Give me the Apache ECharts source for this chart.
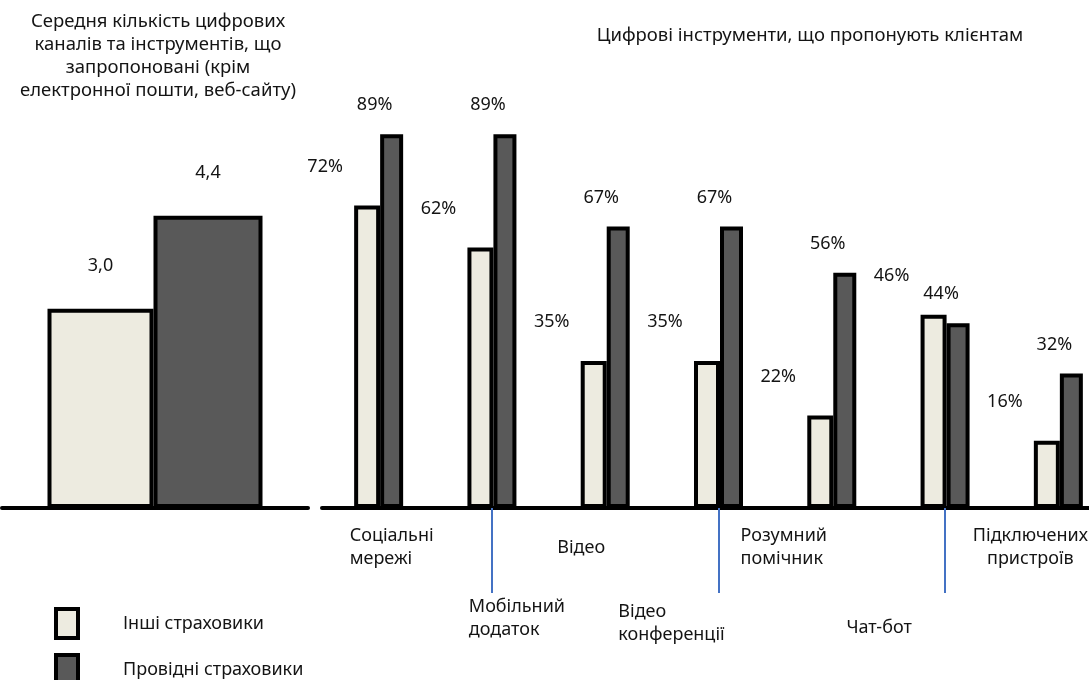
<!DOCTYPE html>
<html>
<head>
<meta charset="utf-8">
<script src="https://cdn.jsdelivr.net/npm/echarts@6/dist/echarts.min.js"></script>
<style>
  html, body { margin: 0; padding: 0; background: #fff; }
  #chart { width: 1089px; height: 680px; }
</style>
</head>
<body>
<div id="chart"></div>
<script>
// дані
var seriesNames = ['Інші страховики', 'Провідні страховики'];
var avgTitle = 'Середня кількість цифрових\nканалів та інструментів, що\nзапропоновані (крім\nелектронної пошти, веб-сайту)';
var avgOthers = [3.0];
var avgLeaders = [4.4];
var toolsTitle = 'Цифрові інструменти, що пропонують клієнтам';
var tools = ['Соціальні\nмережі', 'Мобільний\nдодаток', 'Відео', 'Відео\nконференції', 'Розумний\nпомічник', 'Чат-бот', 'Підключених\nпристроїв'];
var toolsOthers = [72, 62, 35, 35, 22, 46, 16];
var toolsLeaders = [89, 89, 67, 67, 56, 44, 32];

var FONT = '"Noto Sans", "DejaVu Sans", sans-serif';
var TEXT = '#141414';
var LIGHT = '#EDEBE0';
var DARK = '#595959';

// зсув підписів категорій (два ряди, як в оригіналі)
var labelShift = [13, 25, -24, -47, -48, -66, -28];
var labelDrop = [0, 71, 12, 76, 0, 92, 0];
var rich = {};
labelShift.forEach(function (dx, i) {
    var l = dx > 0 ? 2 * dx : 0;
    var r = dx < 0 ? -2 * dx : 0;
    rich['t' + i] = {
        fontSize: 18, fontFamily: FONT, color: TEXT, lineHeight: 23,
        align: i === 6 ? 'center' : 'left', padding: [0, r, 0, l]
    };
    rich['g' + i] = { fontSize: 1, lineHeight: labelDrop[i], height: labelDrop[i] };
});

var chart = echarts.init(document.getElementById('chart'));

chart.setOption({
    animation: false,
    graphic: [{
        type: 'text', x: 158, y: 10,
        style: { text: avgTitle, textAlign: 'center', textVerticalAlign: 'top', fontSize: 18.5, fontFamily: FONT, fill: TEXT, lineHeight: 23 }
    }, {
        type: 'text', x: 810, y: 26,
        style: { text: toolsTitle, textAlign: 'center', textVerticalAlign: 'top', fontSize: 18.5, fontFamily: FONT, fill: TEXT }
    }],
    legend: {
        orient: 'vertical', left: 49, top: 602, height: 120,
        itemWidth: 22, itemHeight: 29, itemGap: 13,
        icon: 'rect', selectedMode: false,
        data: seriesNames,
        itemStyle: { borderColor: '#000', borderWidth: 4 },
        textStyle: { fontSize: 18, fontFamily: FONT, color: TEXT, padding: [0, 0, 0, 40] }
    },
    grid: [
        { left: 2, width: 306, top: 176, bottom: 172, outerBoundsMode: 'none' },
        { left: 322, right: -26, top: 88, bottom: 172, outerBoundsMode: 'none' }
    ],
    xAxis: [{
        type: 'category', gridIndex: 0, data: [''],
        axisLine: { lineStyle: { color: '#000', width: 4 } },
        axisTick: { show: false }, axisLabel: { show: false }
    }, {
        type: 'category', gridIndex: 1, data: tools,
        axisLine: { lineStyle: { color: '#000', width: 4 } },
        axisTick: {
            show: true, alignWithLabel: true, length: 85,
            interval: function (index) { return index % 2 === 1; },
            lineStyle: { color: '#4472C4', width: 2 }
        },
        axisLabel: {
            interval: 0, margin: 16, rich: rich,
            formatter: function (value, idx) {
                var lines = value.split('\n').map(function (line) {
                    return '{t' + idx + '|' + line + '}';
                });
                if (labelDrop[idx]) lines.unshift('{g' + idx + '| }');
                return lines.join('\n');
            }
        }
    }],
    yAxis: [
        { type: 'value', gridIndex: 0, min: 0, max: 5, show: false },
        { type: 'value', gridIndex: 1, min: 0, max: 100, show: false }
    ],
    series: [{
        name: seriesNames[0], type: 'bar', xAxisIndex: 0, yAxisIndex: 0,
        data: avgOthers, barWidth: 106, barGap: '0%',
        itemStyle: { color: LIGHT, borderColor: '#000', borderWidth: 4 },
        label: {
            show: true, position: 'top', distance: 34, fontSize: 18, fontFamily: FONT, color: TEXT,
            formatter: function (p) { return p.value.toFixed(1).replace('.', ','); }
        }
    }, {
        name: seriesNames[1], type: 'bar', xAxisIndex: 0, yAxisIndex: 0,
        data: avgLeaders, barWidth: 109, barGap: '0%',
        itemStyle: { color: DARK, borderColor: '#000', borderWidth: 4 },
        label: {
            show: true, position: 'top', distance: 34, fontSize: 18, fontFamily: FONT, color: TEXT,
            formatter: function (p) { return p.value.toFixed(1).replace('.', ','); }
        }
    }, {
        name: seriesNames[0], type: 'bar', xAxisIndex: 1, yAxisIndex: 1,
        data: toolsOthers, barWidth: 26, barGap: '0%',
        itemStyle: { color: LIGHT, borderColor: '#000', borderWidth: 4 },
        label: {
            show: true, position: 'top', offset: [-42, -25], fontSize: 18, fontFamily: FONT, color: TEXT,
            formatter: '{c}%'
        }
    }, {
        name: seriesNames[1], type: 'bar', xAxisIndex: 1, yAxisIndex: 1,
        data: toolsLeaders, barWidth: 23, barGap: '0%',
        itemStyle: { color: DARK, borderColor: '#000', borderWidth: 4 },
        label: {
            show: true, position: 'top', offset: [-17, -15], fontSize: 18, fontFamily: FONT, color: TEXT,
            formatter: '{c}%'
        }
    }]
});
</script>
</body>
</html>
